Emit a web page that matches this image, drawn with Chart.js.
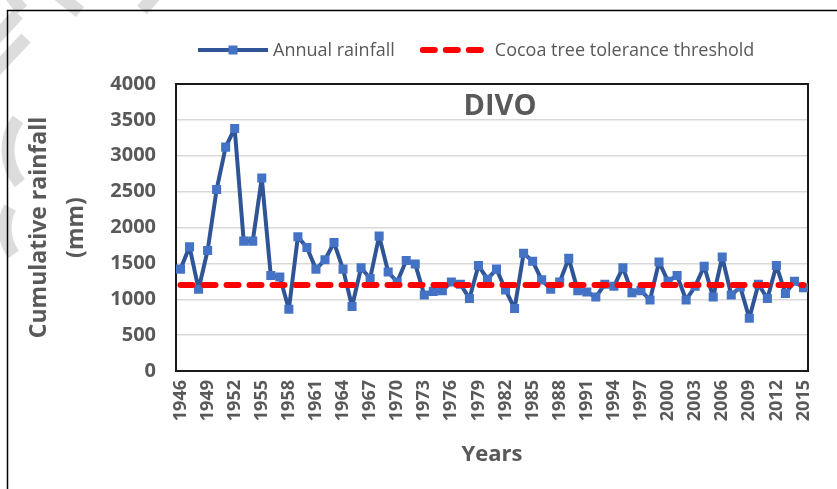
<!DOCTYPE html>
<html lang="en">
<head>
    <meta charset="UTF-8">
    <title>DIVO - Annual rainfall</title>
    <style>
        html, body {
            margin: 0;
            padding: 0;
            background: #fff;
        }
    </style>
    <script src="https://cdn.jsdelivr.net/npm/chart.js"></script>
</head>
<body>
    <canvas id="rainChart" width="837" height="489"></canvas>

    <script>
        // Years on the x axis
        const years = [
            '1946', '1947', '1948', '1949', '1950', '1951', '1952', '1953', '1954', '1955',
            '1956', '1957', '1958', '1959', '1960', '1961', '1962', '1963', '1964', '1965',
            '1966', '1967', '1968', '1969', '1970', '1971', '1972', '1973', '1974', '1975',
            '1976', '1977', '1978', '1979', '1980', '1981', '1982', '1983', '1984', '1985',
            '1986', '1987', '1988', '1989', '1990', '1991', '1992', '1993', '1994', '1995',
            '1996', '1997', '1998', '1999', '2000', '2001', '2002', '2003', '2004', '2005',
            '2006', '2007', '2008', '2009', '2010', '2011', '2012', '2013', '2014', '2015'
        ];

        // Annual rainfall (mm)
        const annualRainfall = [
            1420, 1730, 1140, 1680, 2530, 3120, 3380, 1810, 1810, 2690,
            1330, 1310, 860, 1870, 1720, 1420, 1550, 1790, 1420, 900,
            1440, 1290, 1880, 1380, 1240, 1540, 1490, 1060, 1110, 1120,
            1240, 1210, 1010, 1470, 1280, 1420, 1130, 870, 1640, 1530,
            1270, 1140, 1240, 1570, 1120, 1100, 1030, 1210, 1180, 1440,
            1090, 1120, 990, 1520, 1250, 1330, 990, 1180, 1460, 1030,
            1590, 1060, 1170, 735, 1210, 1010, 1470, 1080, 1250, 1160
        ];

        // Cocoa tree tolerance threshold (mm)
        const thresholdLine = [
            { x: '1946', y: 1200 },
            { x: '2015', y: 1200 }
        ];

        // Labels shown on the x axis
        const yearTickLabels = [
            '1946', '1949', '1952', '1955', '1958', '1961', '1964', '1967', '1970', '1973', '1976', '1979',
            '1982', '1985', '1988', '1991', '1994', '1997', '2000', '2003', '2006', '2009', '2012', '2015'
        ];

        const yMin = 0;
        const yMax = 4000;
        const yStep = 500;

        const textGrey = '#595959';
        const lineBlue = '#2F5597';
        const markerBlue = '#4472C4';
        const thresholdRed = '#FF0000';
        const fontName = "'Open Sans', sans-serif";

        // white page, grey watermark strokes and the outer box
        const backgroundPlugin = {
            id: 'background',
            beforeDraw(chart) {
                const ctx = chart.ctx;
                ctx.save();
                ctx.fillStyle = '#fff';
                ctx.fillRect(0, 0, chart.width, chart.height);

                ctx.strokeStyle = '#dcdcdc';
                ctx.lineWidth = 13;
                ctx.lineCap = 'butt';
                const strokes = [
                    [8, -8, 22, 10], [55, -8, 80, 12], [158, -8, 142, 10],
                    [18, 14, -6, 40], [26, 38, -6, 72]
                ];
                strokes.forEach(s => {
                    ctx.beginPath();
                    ctx.moveTo(s[0], s[1]);
                    ctx.lineTo(s[2], s[3]);
                    ctx.stroke();
                });
                ctx.beginPath();
                ctx.arc(60, 150, 52, Math.PI * 0.78, Math.PI * 1.2);
                ctx.stroke();
                ctx.beginPath();
                ctx.arc(50, 228, 45, Math.PI * 0.8, Math.PI * 1.15);
                ctx.stroke();

                ctx.strokeStyle = '#000';
                ctx.lineWidth = 1.5;
                ctx.strokeRect(7.5, 10.5, chart.width + 20, chart.height + 20);
                ctx.restore();
            }
        };

        // black frame round the plot area
        const framePlugin = {
            id: 'frame',
            beforeDatasetsDraw(chart) {
                const { ctx, chartArea } = chart;
                ctx.save();
                ctx.strokeStyle = '#1a1a1a';
                ctx.lineWidth = 2;
                ctx.strokeRect(chartArea.left, chartArea.top, chartArea.right - chartArea.left, chartArea.bottom - chartArea.top);
                ctx.restore();
            }
        };

        // "DIVO" label inside the plot and the legend above it
        const labelsPlugin = {
            id: 'labels',
            afterDraw(chart) {
                const { ctx, chartArea } = chart;
                ctx.save();
                ctx.fillStyle = textGrey;
                ctx.font = 'bold 29px ' + fontName;
                ctx.textAlign = 'center';
                ctx.textBaseline = 'middle';
                ctx.fillText('DIVO', (chartArea.left + chartArea.right) / 2 + 8, chartArea.top + 23);

                // legend
                const y = 50;
                ctx.font = '18px ' + fontName;
                ctx.textAlign = 'left';
                const t1 = 'Annual rainfall';
                const t2 = 'Cocoa tree tolerance threshold';
                const w1 = ctx.measureText(t1).width;
                let x = 198;

                ctx.strokeStyle = lineBlue;
                ctx.lineWidth = 4;
                ctx.beginPath();
                ctx.moveTo(x, y);
                ctx.lineTo(x + 70, y);
                ctx.stroke();
                ctx.fillStyle = markerBlue;
                ctx.fillRect(x + 35 - 4.5, y - 4.5, 9, 9);
                x += 75;
                ctx.fillStyle = textGrey;
                ctx.fillText(t1, x, y + 1);
                x += w1 + 25;

                ctx.strokeStyle = thresholdRed;
                ctx.lineWidth = 6;
                ctx.lineCap = 'round';
                ctx.setLineDash([12, 11]);
                ctx.beginPath();
                ctx.moveTo(x + 3, y);
                ctx.lineTo(x + 63, y);
                ctx.stroke();
                ctx.setLineDash([]);
                x += 63 + 12;
                ctx.fillText(t2, x, y + 1);
                ctx.restore();
            }
        };

        const ctx = document.getElementById('rainChart').getContext('2d');
        new Chart(ctx, {
            type: 'line',
            data: {
                labels: years,
                datasets: [
                    {
                        label: 'Annual rainfall',
                        data: annualRainfall,
                        borderColor: lineBlue,
                        borderWidth: 4,
                        borderJoinStyle: 'round',
                        borderCapStyle: 'round',
                        pointStyle: 'rect',
                        pointRadius: 6.4,
                        pointBackgroundColor: markerBlue,
                        pointBorderWidth: 0,
                        tension: 0,
                        order: 2
                    },
                    {
                        label: 'Cocoa tree tolerance threshold',
                        data: thresholdLine,
                        borderColor: thresholdRed,
                        borderWidth: 6,
                        borderDash: [12, 11],
                        borderCapStyle: 'round',
                        pointRadius: 0,
                        order: 1
                    }
                ]
            },
            options: {
                responsive: false,
                devicePixelRatio: 1,
                animation: false,
                layout: {
                    padding: { top: 84, right: 29, bottom: 0, left: 0 }
                },
                plugins: {
                    legend: { display: false },
                    tooltip: { enabled: false }
                },
                scales: {
                    x: {
                        offset: true,
                        grid: { display: false, drawTicks: false },
                        border: { display: false },
                        ticks: {
                            autoSkip: false,
                            maxRotation: 90,
                            minRotation: 90,
                            padding: 9,
                            color: textGrey,
                            font: { family: fontName, size: 18, weight: 'bold' },
                            callback: function (value) {
                                const label = this.getLabelForValue(value);
                                return yearTickLabels.includes(label) ? label : '';
                            }
                        },
                        title: {
                            display: true,
                            text: 'Years',
                            color: textGrey,
                            font: { family: fontName, size: 22, weight: 'bold' },
                            padding: { top: 0, bottom: 21 }
                        },
                        afterFit(scale) {
                            scale.height = 118;
                        }
                    },
                    y: {
                        min: yMin,
                        max: yMax,
                        grid: { color: '#d9d9d9', lineWidth: 1.5, drawTicks: false },
                        border: { display: false },
                        ticks: {
                            stepSize: yStep,
                            padding: 20,
                            color: textGrey,
                            font: { family: fontName, size: 20, weight: 'bold' },
                            callback: value => String(value)
                        },
                        title: {
                            display: true,
                            text: ['Cumulative rainfall', '(mm)'],
                            color: textGrey,
                            font: { family: fontName, size: 23, weight: 'bold', lineHeight: 1.6 },
                            padding: { top: 21, bottom: 0 }
                        },
                        afterFit(scale) {
                            scale.width = 176;
                        }
                    }
                }
            },
            plugins: [backgroundPlugin, framePlugin, labelsPlugin]
        });
    </script>
</body>
</html>
